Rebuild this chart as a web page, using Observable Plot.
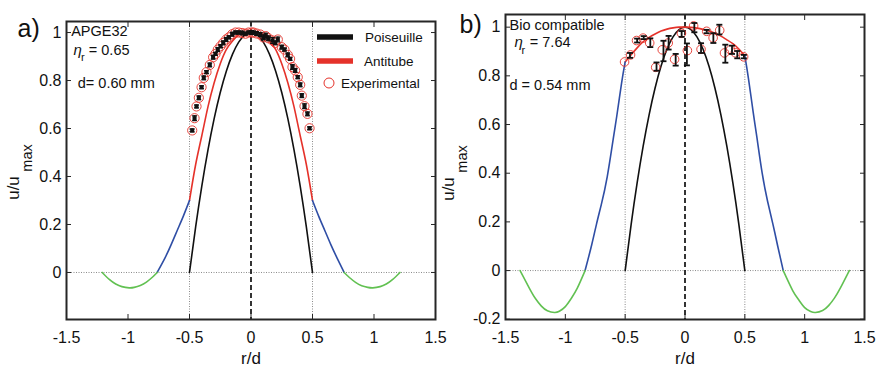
<!DOCTYPE html>
<html><head><meta charset="utf-8">
<script src="https://cdn.jsdelivr.net/npm/d3@7"></script>
<script src="https://cdn.jsdelivr.net/npm/@observablehq/plot@0.6"></script>
<style>
html,body{margin:0;padding:0;background:#fff;}
#wrap{position:relative;width:878px;height:367px;font-family:"Liberation Sans",Arial,sans-serif;}
#pa,#pb{position:absolute;top:0;}
#pa{left:0}
#pb{left:440px}
#legend{position:absolute;left:0;top:0;pointer-events:none}
</style></head><body>
<div id="wrap"><div id="pa"></div><div id="pb"></div><svg id="legend" width="878" height="367"></svg></div>
<script>
// ---------- tick labels ----------
const xTicks = [-1.5, -1, -0.5, 0, 0.5, 1, 1.5];
const yTicksA = [0, 0.2, 0.4, 0.6, 0.8, 1];
const yTicksB = [-0.2, 0, 0.2, 0.4, 0.6, 0.8, 1];

// ---------- shared r grid inside the tube ----------
const tubeR = [-0.5,-0.45,-0.4,-0.35,-0.3,-0.25,-0.2,-0.15,-0.1,-0.05,0,0.05,0.1,0.15,0.2,0.25,0.3,0.35,0.4,0.45,0.5];
const poisU = [0,0.19,0.36,0.51,0.64,0.75,0.84,0.91,0.96,0.99,1,0.99,0.96,0.91,0.84,0.75,0.64,0.51,0.36,0.19,0];

// ---------- panel a curves ----------
const antiA_U = [0.30,0.45,0.57,0.69,0.79,0.87,0.93,0.965,0.99,1.0,1.0,1.0,0.99,0.965,0.93,0.87,0.79,0.69,0.57,0.45,0.30];
const blueAL_R = [-0.5,-0.55,-0.6,-0.65,-0.7,-0.763];
const blueAL_U = [0.30,0.235,0.175,0.115,0.06,0];
const blueAR_R = [0.5,0.55,0.6,0.65,0.7,0.757];
const blueAR_U = [0.30,0.235,0.175,0.115,0.06,0];
const greenAL_R = [-0.763,-0.8,-0.85,-0.9,-0.95,-0.99,-1.05,-1.1,-1.15,-1.21];
const greenAL_U = [0,-0.019,-0.04,-0.054,-0.062,-0.064,-0.059,-0.048,-0.03,0];
const greenAR_R = [0.757,0.8,0.85,0.9,0.95,0.99,1.05,1.1,1.15,1.211];
const greenAR_U = [0,-0.021,-0.041,-0.055,-0.062,-0.064,-0.059,-0.048,-0.03,0];

// ---------- panel a experimental ----------
const expA_R = [-0.478,-0.459,-0.443,-0.424,-0.402,-0.384,-0.362,-0.335,-0.308,-0.289,-0.270,-0.248,-0.226,-0.202,-0.180,-0.153,-0.126,-0.100,-0.072,-0.045,-0.020,0.005,0.020,0.045,0.075,0.100,0.120,0.142,0.175,0.197,0.218,0.250,0.272,0.299,0.318,0.337,0.359,0.380,0.400,0.413,0.435,0.459,0.476];
const expA_U = [0.592,0.643,0.692,0.728,0.772,0.811,0.835,0.865,0.897,0.911,0.929,0.943,0.957,0.971,0.980,0.993,1.0,1.0,0.998,0.995,1.0,1.0,1.0,0.996,0.992,0.980,0.985,0.976,0.967,0.957,0.971,0.939,0.929,0.907,0.890,0.856,0.842,0.814,0.782,0.737,0.693,0.661,0.601];
const expA_E = [0.006,0.01,0.006,0.008,0.006,0.008,0.006,0.008,0.008,0.006,0.008,0.006,0.008,0.008,0.006,0.008,0.006,0.006,0.008,0.006,0.006,0.008,0.006,0.008,0.008,0.01,0.012,0.01,0.012,0.008,0.01,0.008,0.006,0.008,0.006,0.01,0.008,0.006,0.008,0.008,0.01,0.008,0.006];

// ---------- panel b curves ----------
const antiB_U = [0.857,0.887,0.915,0.94,0.958,0.972,0.984,0.992,0.997,1.0,1.0,0.999,0.996,0.991,0.984,0.975,0.963,0.948,0.932,0.91,0.882];
const blueBL_R = [-0.5,-0.53,-0.57,-0.6,-0.65,-0.7,-0.74,-0.78,-0.835];
const blueBL_U = [0.857,0.77,0.635,0.54,0.385,0.27,0.19,0.105,0];
const blueBR_R = [0.5,0.53,0.57,0.6,0.645,0.69,0.735,0.775,0.821];
const blueBR_U = [0.882,0.79,0.65,0.55,0.4,0.285,0.19,0.1,0];
const greenBL_R = [-0.835,-0.9,-0.95,-1.0,-1.05,-1.09,-1.15,-1.2,-1.25,-1.3,-1.378];
const greenBL_U = [0,-0.072,-0.114,-0.148,-0.167,-0.172,-0.165,-0.146,-0.115,-0.073,0];
const greenBR_R = [0.821,0.9,0.95,1.0,1.05,1.09,1.15,1.2,1.25,1.3,1.373];
const greenBR_U = [0,-0.082,-0.12,-0.152,-0.168,-0.172,-0.164,-0.144,-0.112,-0.07,0];

// ---------- panel b experimental ----------
const expB_R = [-0.505,-0.455,-0.405,-0.35,-0.295,-0.245,-0.19,-0.14,-0.087,-0.03,0.02,0.072,0.134,0.181,0.235,0.29,0.33,0.38,0.42,0.49];
const expB_U = [0.857,0.886,0.945,0.955,0.935,0.835,0.907,0.935,0.868,0.975,0.904,1.005,0.909,0.983,0.956,0.987,0.894,0.907,0.895,0.878];
const barB_R = [-0.46,-0.40,-0.345,-0.29,-0.238,-0.18,-0.137,-0.078,-0.028,0.016,0.078,0.134,0.181,0.237,0.287,0.337,0.393,0.437,0.492];
const barB_U = [0.884,0.945,0.957,0.936,0.838,0.902,0.936,0.866,0.972,0.888,0.998,0.914,0.982,0.955,0.99,0.891,0.907,0.887,0.879];
const barB_E = [0.01,0.008,0.006,0.018,0.017,0.042,0.028,0.024,0.012,0.045,0.019,0.02,0.007,0.02,0.02,0.037,0.017,0.015,0.007];

// ---------- colours ----------
const RED = "#e5322a", BLUE = "#2f4ea5", GREEN = "#62c152", BLACK = "#111";

function seg(name, color, R, U){ return R.map((r,i)=>({r, u:U[i], seg:name, color})); }
function pts(R, U, E){ return R.map((r,i)=>({r, u:U[i], e: E ? E[i] : 0})); }

const capSymbol = {draw(ctx, size){ const w = Math.sqrt(size/Math.PI); ctx.moveTo(-w,0); ctx.lineTo(w,0); }};

const curvesA = [
  ...seg("pois", BLACK, tubeR, poisU),
  ...seg("anti", RED, tubeR, antiA_U),
  ...seg("bl", BLUE, blueAL_R, blueAL_U),
  ...seg("br", BLUE, blueAR_R, blueAR_U),
  ...seg("gl", GREEN, greenAL_R, greenAL_U),
  ...seg("gr", GREEN, greenAR_R, greenAR_U)
];
const curvesB = [
  ...seg("pois", BLACK, tubeR, poisU),
  ...seg("anti", RED, tubeR, antiB_U),
  ...seg("bl", BLUE, blueBL_R, blueBL_U),
  ...seg("br", BLUE, blueBR_R, blueBR_U),
  ...seg("gl", GREEN, greenBL_R, greenBL_U),
  ...seg("gr", GREEN, greenBR_R, greenBR_U)
];
const expA = pts(expA_R, expA_U, expA_E);
const expB = pts(expB_R, expB_U);
const barB = pts(barB_R, barB_U, barB_E);

const FONT = '"Liberation Sans", Arial, Helvetica, sans-serif';

function ann(str, dx, dy, size, extra = {}){
  return Plot.text([str], {text: d => d, frameAnchor: "top-left", dx, dy, fontSize: size, textAnchor: "start", lineAnchor: "bottom", fill: "#111", ...extra});
}

function baseMarks(curves){
  return [
    Plot.ruleX([-0.5, 0.5], {stroke: "#8a8a8a", strokeWidth: 1, strokeDasharray: "1,1.5"}),
    Plot.ruleY([0], {stroke: "#8a8a8a", strokeWidth: 1, strokeDasharray: "1,1.5"}),
    Plot.ruleX([0], {stroke: BLACK, strokeWidth: 1.7, strokeDasharray: "5,3"}),
    Plot.line(curves, {x: "r", y: "u", z: "seg", stroke: "color", strokeWidth: 1.6, curve: "natural"})
  ];
}
function axisMarks(yTicks){
  return [
    Plot.frame({stroke: "#262626", strokeWidth: 2}),
    Plot.axisX({ticks: xTicks, tickSize: -5, tickPadding: 17, tickFormat: d => String(d), fontSize: 16, label: null, stroke: "#262626"}),
    Plot.axisX({anchor: "top", ticks: xTicks, tickSize: -5, tickFormat: () => null, label: null, stroke: "#262626"}),
    Plot.axisY({ticks: yTicks, tickSize: -5, tickPadding: 10, tickFormat: d => String(d), fontSize: 16, label: null, stroke: "#262626"}),
    Plot.axisY({anchor: "right", ticks: yTicks, tickSize: -5, tickFormat: () => null, label: null, stroke: "#262626"}),
    Plot.text(["r/d"], {text: d => d, frameAnchor: "bottom", lineAnchor: "middle", textAnchor: "middle", dy: 39, fontSize: 17, fill: "#111"})
  ];
}
function yLabel(dxMain, dyMain, dxSub, dySub){
  return [
    Plot.text(["u/u"], {text: d => d, frameAnchor: "left", textAnchor: "middle", lineAnchor: "middle", rotate: -90, dx: dxMain, dy: dyMain, fontSize: 17, fill: "#111"}),
    Plot.text(["max"], {text: d => d, frameAnchor: "left", textAnchor: "middle", lineAnchor: "middle", rotate: -90, dx: dxSub, dy: dySub, fontSize: 14.5, fill: "#111"})
  ];
}

const plotA = Plot.plot({
  width: 440, height: 367,
  marginLeft: 66, marginRight: 5, marginTop: 21, marginBottom: 48,
  style: {fontFamily: FONT, fontSize: "16px", background: "transparent", color: "#111", overflow: "visible"},
  x: {domain: [-1.5, 1.5]},
  y: {domain: [-0.196, 1.046]},
  color: {type: "identity"},
  marks: [
    ...baseMarks(curvesA),
    Plot.dot(expA, {x: "r", y: "u", r: 4.6, stroke: RED, strokeWidth: 0.9, fill: "none"}),
    Plot.ruleX(expA, {x: "r", y1: d => d.u - d.e, y2: d => d.u + d.e, stroke: BLACK, strokeWidth: 1.5}),
    Plot.dot(expA, {x: "r", y: d => d.u - d.e, r: 2.4, symbol: capSymbol, stroke: BLACK, strokeWidth: 1.3, fill: "none"}),
    Plot.dot(expA, {x: "r", y: d => d.u + d.e, r: 2.4, symbol: capSymbol, stroke: BLACK, strokeWidth: 1.3, fill: "none"}),
    Plot.dot(expA, {x: "r", y: "u", r: 2.3, symbol: "square", fill: BLACK, stroke: "none"}),
    ...axisMarks(yTicksA),
    ...yLabel(-52.5, 17.5, -39, -12.5),
    ann("a)", -49, 15, 25),
    ann("APGE32", 4.7, 14, 14.5),
    ann("\u03B7", 7, 33.3, 15, {fontStyle: "italic"}),
    ann("r", 14.5, 39, 11),
    ann("= 0.65", 22.3, 33.3, 14.5),
    ann("d= 0.60 mm", 11.3, 66.3, 14.5)
  ]
});
document.getElementById("pa").appendChild(plotA);

const plotB = Plot.plot({
  width: 438, height: 367,
  marginLeft: 65, marginRight: 14, marginTop: 14, marginBottom: 48,
  style: {fontFamily: FONT, fontSize: "16px", background: "transparent", color: "#111", overflow: "visible"},
  x: {domain: [-1.5, 1.5]},
  y: {domain: [-0.201, 1.052]},
  color: {type: "identity"},
  marks: [
    ...baseMarks(curvesB),
    Plot.dot(expB, {x: "r", y: "u", r: 4.3, stroke: RED, strokeWidth: 0.9, fill: "none"}),
    Plot.ruleX(barB, {x: "r", y1: d => d.u - d.e, y2: d => d.u + d.e, stroke: BLACK, strokeWidth: 1.8}),
    Plot.dot(barB, {x: "r", y: d => d.u - d.e, r: 3, symbol: capSymbol, stroke: BLACK, strokeWidth: 1.8, fill: "none"}),
    Plot.dot(barB, {x: "r", y: d => d.u + d.e, r: 3, symbol: capSymbol, stroke: BLACK, strokeWidth: 1.8, fill: "none"}),
    ...axisMarks(yTicksB),
    ...yLabel(-57, 22, -43.5, -8),
    ann("b)", -46, 18.7, 25),
    ann("Bio compatible", 4, 15, 14.5),
    ann("\u03B7", 9, 32.7, 15, {fontStyle: "italic"}),
    ann("r", 16, 39.3, 11),
    ann("= 7.64", 24.3, 32.7, 14.5),
    ann("d = 0.54 mm", 4, 75.3, 14.5)
  ]
});
document.getElementById("pb").appendChild(plotB);

// ---------- legend (panel a) ----------
const legendItems = ["Poiseuille", "Antitube", "Experimental"];
const lg = d3.select("#legend").attr("font-family", FONT);
lg.append("line").attr("x1", 317).attr("x2", 353).attr("y1", 37).attr("y2", 37).attr("stroke", BLACK).attr("stroke-width", 5.5);
lg.append("text").attr("x", 365).attr("y", 42).attr("font-size", 13.5).attr("fill", "#111").text(legendItems[0]);
lg.append("line").attr("x1", 317).attr("x2", 353).attr("y1", 61).attr("y2", 61).attr("stroke", RED).attr("stroke-width", 5.5);
lg.append("text").attr("x", 364).attr("y", 66).attr("font-size", 13.5).attr("fill", "#111").text(legendItems[1]);
lg.append("circle").attr("cx", 329).attr("cy", 83).attr("r", 5).attr("stroke", RED).attr("stroke-width", 1).attr("fill", "none");
lg.append("text").attr("x", 341).attr("y", 88).attr("font-size", 13.5).attr("fill", "#111").text(legendItems[2]);
</script>
</body></html>
